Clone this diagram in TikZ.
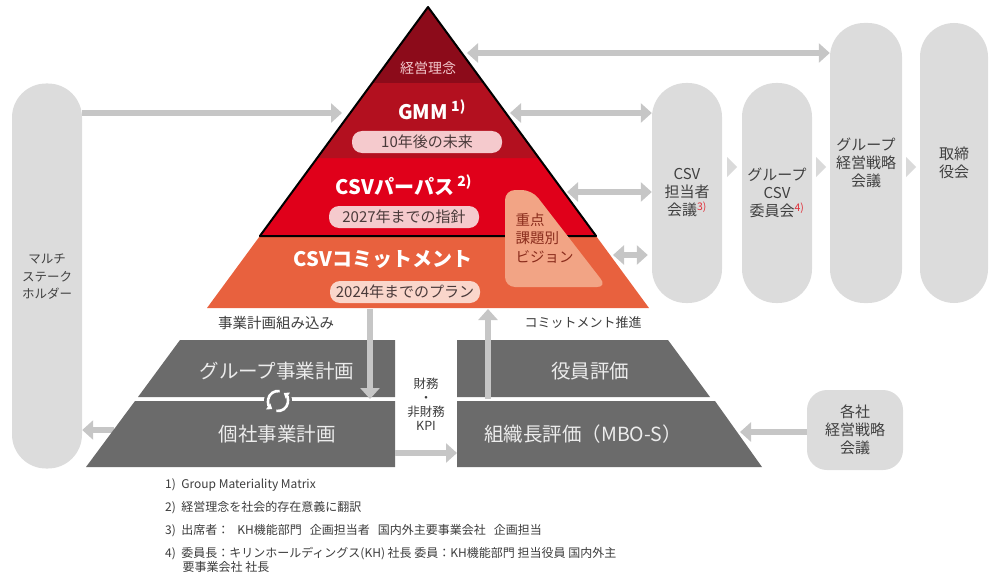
\documentclass[tikz,border=0pt]{standalone}
\usepackage{fontspec}
\setmainfont{Noto Sans CJK JP}
\usetikzlibrary{arrows.meta,calc}

\definecolor{rinenred}{HTML}{8C0B1A}
\definecolor{gmmred}{HTML}{B3101F}
\definecolor{purposered}{HTML}{E0001A}
\definecolor{commitred}{HTML}{E8613E}
\definecolor{visionfill}{HTML}{F2A485}
\definecolor{visiontext}{HTML}{8A2C1C}
\definecolor{rinentext}{HTML}{F2C8CC}
\definecolor{tagpink}{HTML}{F5CACD}
\definecolor{tagpeach}{HTML}{FAD6CB}
\definecolor{tagtext}{HTML}{4A3A3A}
\definecolor{arrowgray}{HTML}{C6C6C6}
\definecolor{chevgray}{HTML}{DADADA}
\definecolor{pillgray}{HTML}{DCDCDC}
\definecolor{pilltext}{HTML}{404040}
\definecolor{markred}{HTML}{E0303A}
\definecolor{trapgray}{HTML}{6B6B6B}
\definecolor{traplight}{HTML}{ECECEC}
\definecolor{notetext}{HTML}{3C3C3C}

\newcommand{\setfs}[2]{\fontsize{#1}{#2}\selectfont}
\newcommand{\notemark}[1]{\textsuperscript{\textcolor{markred}{#1}}}

\begin{document}
\begin{tikzpicture}[x=1pt, y=-1pt,
    garrow/.style={draw=arrowgray, line width=6pt, -{Triangle[length=11pt,width=19pt]}},
    garrows/.style={draw=arrowgray, line width=6pt, {Triangle[length=11pt,width=19pt]}-{Triangle[length=11pt,width=19pt]}},
    pill/.style={fill=pillgray, rounded corners=34pt, minimum width=70pt, align=center, text=pilltext, font=\setfs{15}{18}},
    tag/.style={fill=tagpink, rounded corners=10pt, minimum width=150pt, minimum height=22pt, inner sep=0pt, text=tagtext, font=\setfs{15}{15}},
    bandtitle/.style={text=white, font=\bfseries\setfs{20}{20}},
    trap/.style={fill=trapgray},
    traptext/.style={text=traplight, font=\setfs{19.5}{20}},
    caption/.style={text=notetext, font=\setfs{13}{13}},
    fnote/.style={anchor=west, inner sep=0pt, align=left, text=notetext, font=\setfs{12}{14}}]

    \useasboundingbox (0,0) rectangle (990,583);

    % pyramid
    \fill[commitred] (259.9,236) -- (596.1,236) -- (649,308) -- (207,308) -- cycle;
    \fill[purposered] (317.2,158) -- (538.8,158) -- (596.1,236) -- (259.9,236) -- cycle;
    \fill[gmmred] (372.2,83) -- (483.8,83) -- (538.8,158) -- (317.2,158) -- cycle;
    \fill[rinenred] (428,7) -- (483.8,83) -- (372.2,83) -- cycle;
    \draw[line width=2pt, line join=round] (428,7) -- (596.1,236) -- (259.9,236) -- cycle;
    \fill[visionfill, rounded corners=10pt] (505,190) -- (532,190) -- (607,287) -- (505,287) -- cycle;

    \node[text=rinentext, font=\setfs{14}{14}] (rinen) at (428,68) {経営理念};
    \node[bandtitle] (gmm) at (432,110) {GMM\,\textsuperscript{1)}};
    \node[tag] (gmmtag) at (427,142) {10年後の未来};
    \node[bandtitle] (purpose) at (404,185) {CSVパーパス\,\textsuperscript{2)}};
    \node[tag] (purposetag) at (404,217) {2027年までの指針};
    \node[bandtitle] (commit) at (383,260) {CSVコミットメント};
    \node[tag, fill=tagpeach] (committag) at (405,292) {2024年までのプラン};
    \node[anchor=west, align=left, text=visiontext, font=\setfs{14.5}{18.5}] (vision) at (512,238) {重点\\課題別\\ビジョン};

    \coordinate (gmmL) at (342,113);
    \coordinate (rinenR) at (467,53);
    \coordinate (gmmR) at (510,113);
    \coordinate (purposeR) at (567,192);
    \coordinate (commitR) at (613,255);
    \coordinate (commitB) at (370,309);
    \coordinate (commitU) at (488,309);

    % stakeholders and meetings
    \node[pill, minimum height=385pt] (msh) at (47,276) {};
    \node[text=pilltext, align=center, font=\setfs{12.5}{17.5}] (mshtext) at (47,277) {マルチ\\ステーク\\ホルダー};
    \node[pill, minimum height=220pt] (tanto) at (687,193) {CSV\\担当者\\会議\notemark{3)}};
    \node[pill, minimum height=220pt] (iinkai) at (777,193) {グループ\\CSV\\委員会\notemark{4)}};
    \node[pill, minimum height=280pt, minimum width=72pt] (senryaku) at (866,163) {グループ\\経営戦略\\会議};
    \node[pill, minimum height=280pt, minimum width=68pt] (torishimari) at (954,163) {取締\\役会};

    \foreach \a/\b in {tanto/iinkai, iinkai/senryaku, senryaku/torishimari}
        \fill[chevgray] ($(\a.east |- 0,167)!0.5!(\b.west |- 0,167)$) ++(-5,-10) -- ++(10,10) -- ++(-10,10) -- cycle;

    \draw[garrow] (msh.east |- gmmL) -- (gmmL);
    \draw[garrows] (rinenR) -- (senryaku.west |- rinenR);
    \draw[garrows] (gmmR) -- (tanto.west |- gmmR);
    \draw[garrows] (purposeR) -- (tanto.west |- purposeR);
    \draw[garrows, shorten >=4pt] (commitR) -- (tanto.west |- commitR);

    % plans and evaluation
    \coordinate (kplanL) at (114,430);
    \draw[garrow] (kplanL) -- (msh.east |- kplanL);

    \fill[trap] (180,340) -- (395,340) -- (395,397) -- (138,397) -- cycle;
    \fill[trap] (135,401) -- (395,401) -- (395,467) -- (86,467) -- cycle;
    \fill[trap] (457,340) -- (668,340) -- (710,397) -- (457,397) -- cycle;
    \fill[trap] (457,401) -- (715,401) -- (762,467) -- (457,467) -- cycle;

    \node[traptext] (gplan) at (277,371) {グループ事業計画};
    \node[traptext] (kplan) at (277,434) {個社事業計画};
    \node[traptext] (yakuin) at (590,371) {役員評価};
    \node[traptext] (soshiki) at (583,434) {組織長評価（MBO-S）};
    \node[text=notetext, align=center, font=\setfs{12.5}{14}] (kpi) at (426,404) {財務\\・\\非財務\\KPI};

    \fill[trapgray] (278,401) circle (14pt);
    \draw[white, line width=2.6pt, -{Triangle[length=5pt,width=7pt]}] (278,401) ++(80:10pt) arc[start angle=80, end angle=235, radius=10pt];
    \draw[white, line width=2.6pt, -{Triangle[length=5pt,width=7pt]}] (278,401) ++(260:10pt) arc[start angle=260, end angle=415, radius=10pt];

    \node[caption, font=\setfs{14.5}{14.5}] (planin) at (276,323) {事業計画組み込み};
    \node[caption] (commitpush) at (583,323) {コミットメント推進};

    \node[pill, rounded corners=20pt, minimum width=96pt, minimum height=80pt] (kakusha) at (855,430) {各社\\経営戦略\\会議};

    \coordinate (gplanB) at (370,399);
    \coordinate (kplanT) at (488,399);
    \coordinate (kplanR) at (395,453);
    \coordinate (soshikiL) at (457,453);
    \coordinate (soshikiR) at (740,432);
    \draw[garrow] (commitB) -- (gplanB);
    \draw[garrow] (kplanT) -- (commitU);
    \draw[garrow] (kplanR) -- (soshikiL);
    \draw[garrow] (kakusha.west |- soshikiR) -- (soshikiR);

    % notes
    \node[fnote] (fn1) at (165,485) {1)\ \ Group Materiality Matrix};
    \node[fnote] (fn2) at (165,508) {2)\ \ 経営理念を社会的存在意義に翻訳};
    \node[fnote] (fn3) at (165,531) {3)\ \ 出席者：\hspace{8pt}KH機能部門\hspace{8pt}企画担当者\hspace{8pt}国内外主要事業会社\hspace{8pt}企画担当};
    \node[fnote] (fn4) at (165,560) {4)\ \ 委員長：キリンホールディングス(KH) 社長 委員：KH機能部門 担当役員 国内外主\\\hspace*{1.45em}要事業会社 社長};

\end{tikzpicture}
\end{document}
